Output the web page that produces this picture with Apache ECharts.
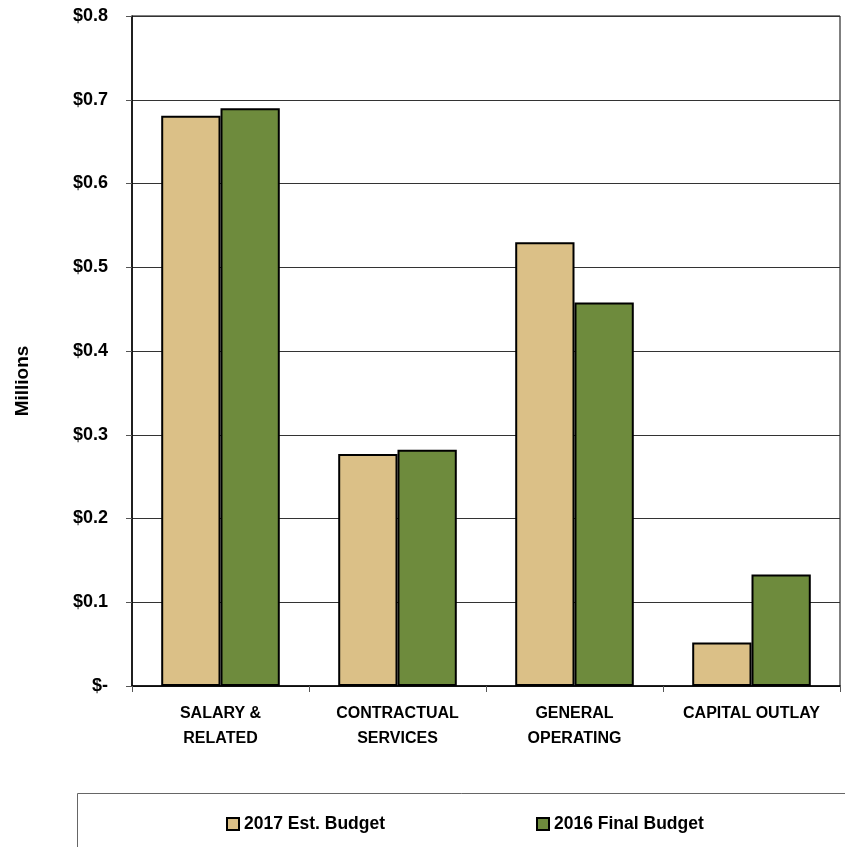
<!DOCTYPE html>
<html>
<head>
<meta charset="utf-8">
<script src="https://cdn.jsdelivr.net/npm/echarts@6/dist/echarts.min.js"></script>
<style>
  html, body { margin: 0; padding: 0; background: #fff; }
  #chart { width: 845px; height: 847px; }
</style>
</head>
<body>
<div id="chart"></div>
<script>
// Budget categories and amounts (in millions of dollars)
const categories = ['SALARY &\nRELATED', 'CONTRACTUAL\nSERVICES', 'GENERAL\nOPERATING', 'CAPITAL OUTLAY'];
const est2017 = [0.681, 0.277, 0.530, 0.052];
const final2016 = [0.690, 0.282, 0.458, 0.133];
const seriesNames = ['2017 Est. Budget', '2016 Final Budget'];
const yMin = 0, yMax = 0.8, yStep = 0.1;

const FONT = '"Liberation Sans", Arial, sans-serif';
const chart = echarts.init(document.getElementById('chart'), null, { renderer: 'canvas' });

const legendText = { fontFamily: FONT, fontWeight: 'bold', fontSize: 17.5, color: '#000' };

chart.setOption({
  animation: false,
  backgroundColor: '#fff',
  grid: {
    left: 132, right: 5, top: 16, bottom: 161,
    show: true, borderColor: '#000', borderWidth: 1, backgroundColor: 'transparent'
  },
  graphic: [
    {
      type: 'rect',
      shape: { x: 77.5, y: 793.5, width: 800, height: 100 },
      style: { fill: 'none', stroke: '#666', lineWidth: 1 }
    },
    {
      type: 'text',
      x: 23, y: 381, rotation: Math.PI / 2,
      style: {
        text: 'Millions', fontFamily: FONT, fontWeight: 'bold', fontSize: 19,
        fill: '#000', align: 'center', verticalAlign: 'middle'
      }
    }
  ],
  legend: [
    {
      data: [seriesNames[0]], left: 226, top: 815, padding: 0,
      itemWidth: 12, itemHeight: 12, itemGap: 5, icon: 'rect',
      textStyle: legendText, selectedMode: false
    },
    {
      data: [seriesNames[1]], left: 536, top: 815, padding: 0,
      itemWidth: 12, itemHeight: 12, itemGap: 5, icon: 'rect',
      textStyle: legendText, selectedMode: false
    }
  ],
  xAxis: {
    type: 'category',
    data: categories,
    axisLine: { lineStyle: { color: '#000', width: 1.5 } },
    axisTick: { show: true, length: 6, lineStyle: { color: '#555' } },
    axisLabel: {
      margin: 15, fontFamily: FONT, fontWeight: 'bold', fontSize: 16,
      color: '#000', lineHeight: 25, interval: 0
    }
  },
  yAxis: {
    type: 'value',
    min: yMin, max: yMax, interval: yStep,
    axisLine: { show: true, lineStyle: { color: '#000', width: 1.5 } },
    axisTick: { show: true, length: 6, lineStyle: { color: '#555' } },
    splitLine: { show: true, lineStyle: { color: '#333', width: 1 } },
    axisLabel: {
      margin: 24, fontFamily: FONT, fontWeight: 'bold', fontSize: 18, color: '#000',
      formatter: v => (Math.abs(v) < 1e-9 ? '$-' : '$' + v.toFixed(1))
    }
  },
  series: [
    {
      name: seriesNames[0], type: 'bar', data: est2017,
      barGap: '0%', barCategoryGap: '33%',
      itemStyle: { color: '#DBC087', borderColor: '#000', borderWidth: 2 }
    },
    {
      name: seriesNames[1], type: 'bar', data: final2016,
      itemStyle: { color: '#6E8B3D', borderColor: '#000', borderWidth: 2 }
    }
  ]
});
</script>
</body>
</html>
